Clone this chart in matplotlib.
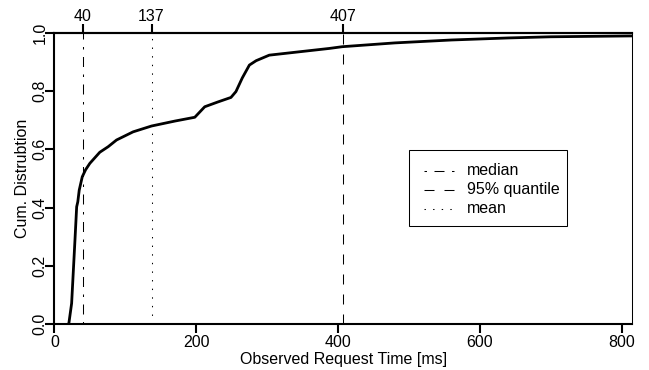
import matplotlib
matplotlib.use("Agg")
import matplotlib.pyplot as plt
from matplotlib.patches import Rectangle

plt.rcParams['font.family'] = ['Liberation Sans', 'DejaVu Sans']
plt.rcParams['lines.scale_dashes'] = False

# ECDF of observed request times
time_ms = [19.5, 20.5, 24.3, 29.0, 31.4, 33.0, 35.0, 39.3, 44.0, 50.0, 64.0, 75.8,
           87.6, 111.0, 137.0, 170.0, 198.0, 212.0, 230.0, 249.0, 256.0, 265.0,
           275.0, 284.5, 303.0, 387.6, 406.0, 480.0, 560.0, 640.0, 700.0, 815.0]
cum_dist = [0.0, 0.005, 0.072, 0.289, 0.403, 0.42, 0.46, 0.506, 0.53, 0.552, 0.59, 0.609,
            0.632, 0.66, 0.68, 0.697, 0.71, 0.746, 0.762, 0.778, 0.798, 0.845,
            0.889, 0.904, 0.923, 0.946, 0.952, 0.965, 0.975, 0.982, 0.986, 0.989]

stat_names = ["median", "95% quantile", "mean"]
stat_values = [40, 407, 137]
top_ticks = [40, 137, 407]
x_ticks = [0, 200, 400, 600, 800]
y_ticks = [0.0, 0.2, 0.4, 0.6, 0.8, 1.0]

fs = 11.5
fig = plt.figure(figsize=(6.49, 3.70), dpi=100)
ax = fig.add_axes([54.4 / 649, 1 - 324.3 / 370, (632.3 - 54.4) / 649, (324.3 - 32.7) / 370])

ax.plot(time_ms, cum_dist, color='black', lw=2.0, solid_joinstyle='round')

dash_styles = {
    "median": (0, (1.8, 5.4, 7.2, 5.4)),
    "95% quantile": (0, (7.2, 7.2)),
    "mean": (0, (1.0, 5.2)),
}
for name, v in zip(stat_names, stat_values):
    ax.plot([v, v], [0, 1], color='black', lw=0.75, linestyle=dash_styles[name])

ax.set_xlim(0, 815)
ax.set_ylim(0, 1)
ax.set_xticks(x_ticks)
ax.set_xticklabels([str(t) for t in x_ticks])
ax.set_yticks(y_ticks)
ax.set_yticklabels([f"{t:.1f}" for t in y_ticks])
ax.tick_params(axis='both', direction='out', length=6.5, width=1.5, labelsize=fs, pad=1.5)
ax.tick_params(axis='y', labelrotation=90, pad=-1.5)
for lab in ax.get_yticklabels():
    lab.set_va('center')

for s in ['left', 'bottom', 'top']:
    ax.spines[s].set_linewidth(1.5)
ax.spines['right'].set_linewidth(0.75)

sec = ax.secondary_xaxis('top')
sec.set_xticks(top_ticks)
sec.set_xticklabels([str(t) for t in top_ticks])
sec.tick_params(direction='out', length=6.5, width=1.5, labelsize=fs, pad=0)
sec.spines['top'].set_linewidth(1.5)

ax.set_xlabel("Observed Request Time [ms]", fontsize=fs, labelpad=1)
ax.set_ylabel("Cum. Distrubtion", fontsize=fs)
ax.yaxis.set_label_coords((30 - 54.4) / 577.9, 0.5)

# legend box (drawn in axes coordinates)
tr = ax.transAxes
def fx(px):
    return (px - 54.4) / (632.3 - 54.4)
def fy(py):
    return (324.3 - py) / (324.3 - 32.7)

ax.add_patch(Rectangle((fx(409.3), fy(225.7)), fx(567.3) - fx(409.3), fy(150) - fy(225.7),
                       transform=tr, fill=True, facecolor='white', edgecolor='black', lw=0.75, zorder=5))
baselines = [175, 194, 213]
for name, b in zip(stat_names, baselines):
    ax.plot([fx(423.5), fx(453.5)], [fy(b - 4.5), fy(b - 4.5)], transform=tr, color='black',
            lw=0.75, linestyle=dash_styles[name], zorder=6)
    ax.text(fx(467), fy(b), name, transform=tr, fontsize=fs, va='baseline', ha='left', zorder=6)

fig.savefig("out.png", dpi=100)
